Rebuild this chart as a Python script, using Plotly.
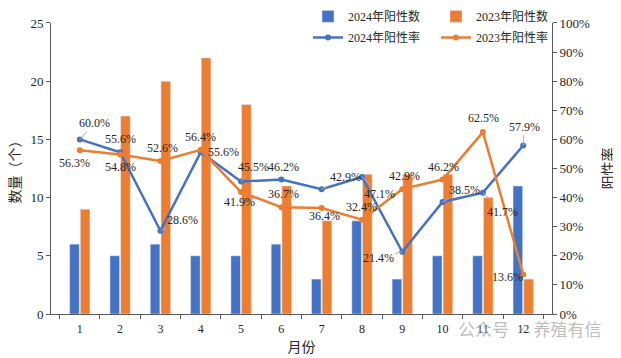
import plotly.graph_objects as go

months = ["1", "2", "3", "4", "5", "6", "7", "8", "9", "10", "11", "12"]
pos2024 = [6, 5, 6, 5, 5, 6, 3, 8, 3, 5, 5, 11]
pos2023 = [9, 17, 20, 22, 18, 11, 8, 12, 12, 12, 10, 3]
rate2024 = [0.600, 0.556, 0.286, 0.556, 0.455, 0.462, 0.429, 0.471, 0.214, 0.385, 0.417, 0.579]
rate2023 = [0.563, 0.548, 0.526, 0.564, 0.419, 0.367, 0.364, 0.324, 0.429, 0.462, 0.625, 0.136]

# label offsets (px) and whether a leader line is drawn
off2024 = [(15, -16, 1), (0, -13, 0), (22, -11, 1), (23, 0, 0), (12, -15, 1), (2, -13, 0),
           (24, -12, 1), (18, 17, 1), (-24, 6, 1), (22, -12, 1), (20, 19, 1), (1, -19, 1)]
off2023 = [(-5, 13, 0), (0, 12, 0), (2, -13, 0), (0, -13, 0), (-2, 10, 0), (2, -13, 0),
           (3, 8, 0), (0, -13, 0), (2, -13, 0), (1, -13, 0), (1, -14, 0), (-16, 3, 0)]

BLUE = "#4472C4"
ORANGE = "#ED7D31"
FONT = "Liberation Serif, 'Noto Sans CJK SC', serif"
TXT = "#262626"

fig = go.Figure()
fig.add_trace(go.Bar(x=months, y=pos2024, name="2024年阳性数", marker_color=BLUE, legend="legend"))
fig.add_trace(go.Bar(x=months, y=pos2023, name="2023年阳性数", marker_color=ORANGE, legend="legend"))
fig.add_trace(go.Scatter(x=months, y=rate2024, name="2024年阳性率", yaxis="y2", mode="lines+markers",
                         line=dict(color=BLUE, width=2.5), marker=dict(size=6, color=BLUE), legend="legend2"))
fig.add_trace(go.Scatter(x=months, y=rate2023, name="2023年阳性率", yaxis="y2", mode="lines+markers",
                         line=dict(color=ORANGE, width=2.5), marker=dict(size=6, color=ORANGE), legend="legend2"))

anns = []
for vals, offs in ((rate2024, off2024), (rate2023, off2023)):
    for i, (v, (ax, ay, lead)) in enumerate(zip(vals, offs)):
        anns.append(dict(x=i, y=v, xref="x", yref="y2", text=f"{v*100:.1f}%",
                         showarrow=True, ax=ax, ay=ay, arrowhead=0, arrowwidth=1,
                         arrowcolor="#B0B0B0" if lead else "rgba(0,0,0,0)",
                         font=dict(family=FONT, size=12, color=TXT)))
anns.append(dict(x=0.956, y=-0.046, xref="paper", yref="paper", xanchor="center", yanchor="middle",
                 text="公众号 · 养殖有信", showarrow=False,
                 font=dict(family="'Noto Sans CJK SC'", size=17, color="rgba(160,160,160,0.7)")))

DOM = [0, 0.951]
fig.update_layout(
    width=613, height=350,
    margin=dict(l=43, r=69, t=0, b=44, autoexpand=False),
    paper_bgcolor="white", plot_bgcolor="white",
    font=dict(family=FONT, size=12, color=TXT),
    barmode="group", bargap=0.47, bargroupgap=0.1,
    showlegend=True,
    legend=dict(orientation="h", x=0.513, y=1.02, xanchor="left", yanchor="top",
                font=dict(size=12), entrywidth=83, bgcolor="rgba(0,0,0,0)", tracegroupgap=0),
    legend2=dict(orientation="h", x=0.513, y=0.951, xanchor="left", yanchor="top",
                 font=dict(size=12), entrywidth=83, bgcolor="rgba(0,0,0,0)"),
    xaxis=dict(type="category", showline=True, linecolor="#595959", linewidth=1,
               ticks="outside", tickson="boundaries", ticklen=4, tickcolor="#595959",
               showgrid=False, tickfont=dict(size=12), ticklabelstandoff=4,
               title=dict(text="月份", font=dict(size=14), standoff=6)),
    yaxis=dict(domain=DOM, range=[0, 25], dtick=5, showline=True, linecolor="#595959", linewidth=1,
               ticks="outside", ticklen=4, tickcolor="#595959", showgrid=False, zeroline=False,
               tickfont=dict(size=13),
               title=dict(text="数量（个）", font=dict(size=14), standoff=15)),
    yaxis2=dict(domain=DOM, range=[0, 1], dtick=0.1, tickformat=".0%", overlaying="y", side="right",
                showline=True, linecolor="#595959", linewidth=1, ticks="outside", ticklen=4,
                tickcolor="#595959", showgrid=False, zeroline=False, tickfont=dict(size=13),
                title=dict(text="阳性率", font=dict(size=14), standoff=14)),
    annotations=anns,
)
fig.write_html("out.html")
